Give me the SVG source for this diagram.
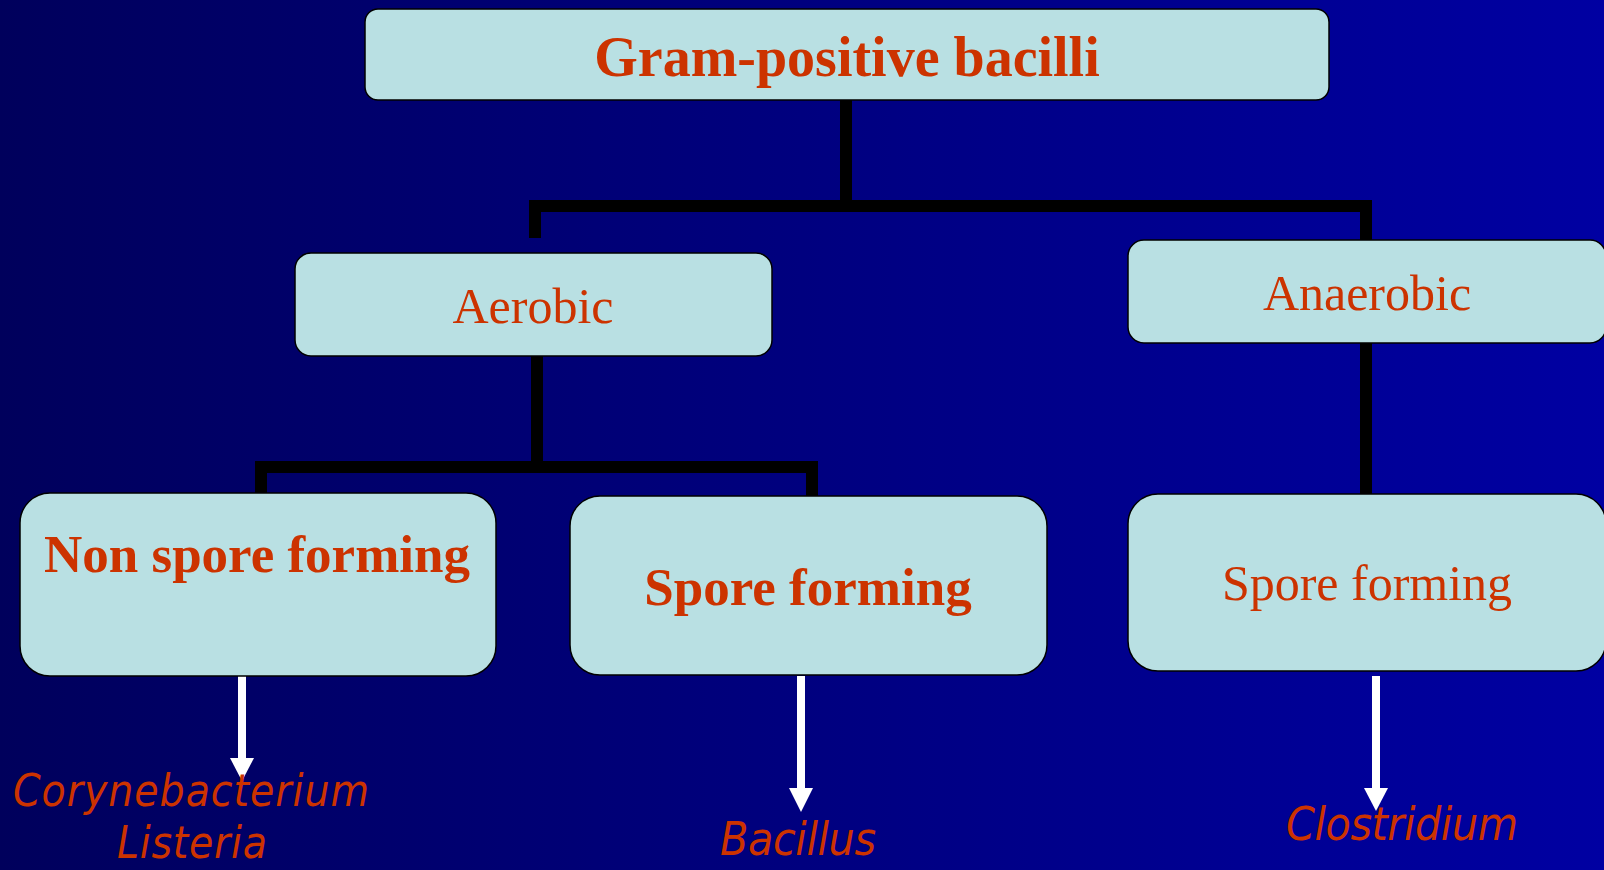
<svg xmlns="http://www.w3.org/2000/svg" width="1604" height="870" viewBox="0 0 1604 870">
<defs>
<linearGradient id="bg" x1="0" y1="0" x2="1" y2="0">
<stop offset="0" stop-color="#00005C"/>
<stop offset="1" stop-color="#0000A2"/>
</linearGradient>
</defs>
<style>
.box{fill:#B9E0E3;stroke:#000;stroke-width:1.5}
.lbl{font-family:"Liberation Serif","Times New Roman",serif;fill:#CC3300;text-anchor:middle}
.b{font-weight:bold}
.it{font-family:"DejaVu Sans Condensed","DejaVu Sans",sans-serif;font-style:italic;fill:#CC3300;text-anchor:middle;font-size:46px}
.sm{font-size:44px}
.con{fill:none;stroke:#000;stroke-width:12;stroke-linejoin:miter;stroke-linecap:butt}
.arr{stroke:#fff;stroke-width:8;fill:none}
.head{fill:#fff}
</style>
<rect width="1604" height="870" fill="url(#bg)"/>
<g id="connectors">
<path class="con" d="M846 100 V206"/>
<path class="con" d="M535 238 V206 H1366 V240"/>
<path class="con" d="M537 356 V467"/>
<path class="con" d="M261 493 V467 H812 V496"/>
<path class="con" d="M1366 343 V494"/>
<path class="arr" d="M242 676 V760"/>
<polygon class="head" points="230,758 254,758 242,781"/>
<path class="arr" d="M801 676 V790"/>
<polygon class="head" points="789,788 813,788 801,812"/>
<path class="arr" d="M1376 676 V790"/>
<polygon class="head" points="1364,788 1388,788 1376,811"/>
</g>
<g id="n-gpb">
<rect class="box" x="365" y="9" width="964" height="91" rx="13"/>
<text class="lbl b" x="847" y="76" font-size="56">Gram-positive bacilli</text>
</g>
<g id="n-aerobic">
<rect class="box" x="295" y="253" width="477" height="103" rx="16"/>
<text class="lbl" x="533" y="323" font-size="50">Aerobic</text>
</g>
<g id="n-anaerobic">
<rect class="box" x="1128" y="240" width="478" height="103" rx="16"/>
<text class="lbl" x="1367" y="310" font-size="50">Anaerobic</text>
</g>
<g id="n-nonspore">
<rect class="box" x="20" y="493" width="476" height="183" rx="30"/>
<text class="lbl b" x="257" y="572" font-size="53">Non spore forming</text>
</g>
<g id="n-spore-aer">
<rect class="box" x="570" y="496" width="477" height="179" rx="30"/>
<text class="lbl b" x="808" y="605" font-size="53">Spore forming</text>
</g>
<g id="n-spore-anaer">
<rect class="box" x="1128" y="494" width="478" height="177" rx="30"/>
<text class="lbl" x="1367" y="600" font-size="50">Spore forming</text>
</g>
<g id="n-coryne">
<text class="it sm" x="191" y="806" textLength="356">Corynebacterium</text>
<text class="it sm" x="192" y="858" textLength="150">Listeria</text>
</g>
<g id="n-bacillus">
<text class="it" x="798" y="855" textLength="156">Bacillus</text>
</g>
<g id="n-clostridium">
<text class="it" x="1402" y="840" textLength="232">Clostridium</text>
</g>
</svg>
